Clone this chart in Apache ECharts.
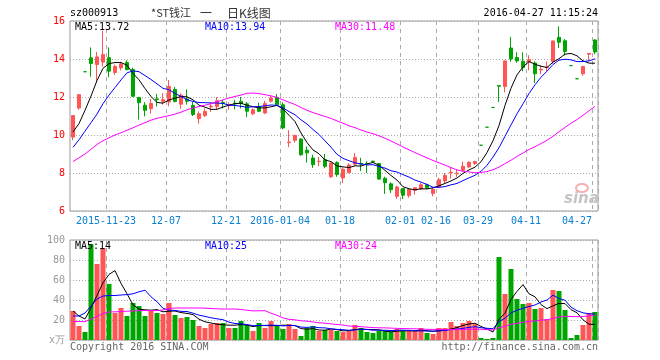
<!DOCTYPE html>
<html><head><meta charset="utf-8">
<script src="https://cdn.jsdelivr.net/npm/echarts@6/dist/echarts.min.js"></script>
<style>html,body{margin:0;padding:0;background:#fff}#c{width:660px;height:360px}</style>
</head><body><div id="c"></div>
<script>
// ---------- data ----------
const dates = [
'2015-11-13','2015-11-16','2015-11-17','2015-11-18','2015-11-19','2015-11-20',
'2015-11-23','2015-11-24','2015-11-25','2015-11-26','2015-11-27',
'2015-11-30','2015-12-01','2015-12-02','2015-12-03','2015-12-04',
'2015-12-07','2015-12-08','2015-12-09','2015-12-10','2015-12-11',
'2015-12-14','2015-12-15','2015-12-16','2015-12-17','2015-12-18',
'2015-12-21','2015-12-22','2015-12-23','2015-12-24','2015-12-25',
'2015-12-28','2015-12-29','2015-12-30','2015-12-31',
'2016-01-04','2016-01-05','2016-01-06','2016-01-07','2016-01-08',
'2016-01-11','2016-01-12','2016-01-13','2016-01-14','2016-01-15',
'2016-01-18','2016-01-19','2016-01-20','2016-01-21','2016-01-22',
'2016-01-25','2016-01-26','2016-01-27','2016-01-28','2016-01-29',
'2016-02-01','2016-02-02','2016-02-03','2016-02-04','2016-02-05',
'2016-02-15','2016-02-16','2016-02-17','2016-02-18','2016-02-19',
'2016-02-22','2016-02-23','2016-02-24',
'2016-03-29','2016-03-30','2016-03-31','2016-04-01',
'2016-04-05','2016-04-06','2016-04-07','2016-04-08',
'2016-04-11','2016-04-12','2016-04-13','2016-04-14','2016-04-15',
'2016-04-18','2016-04-19','2016-04-20','2016-04-21','2016-04-22',
'2016-04-26','2016-04-27'];

const open = [9.89,11.42,13.33,14.06,13.71,13.84,14.07,13.29,13.53,13.82,
13.45,11.98,11.57,11.39,11.90,11.77,11.74,12.40,11.62,11.90,
11.56,10.86,11.02,11.48,11.50,11.72,11.55,11.68,11.77,11.64,
11.12,11.50,11.16,11.78,11.98,11.59,9.60,9.72,9.79,9.20,
8.79,8.60,8.70,7.80,8.55,7.74,8.02,8.46,8.50,8.50,
8.62,8.50,7.72,7.43,6.77,7.18,6.82,7.08,7.16,7.38,
6.92,7.28,7.58,8.00,7.96,8.14,8.32,8.50,9.46,10.41,
11.45,12.60,12.55,14.58,14.08,13.88,13.84,13.79,13.42,13.54,
13.87,15.14,14.96,13.65,12.96,13.22,14.25,15.00];
const close = [11.02,12.12,13.33,13.76,14.11,14.23,13.36,13.61,13.74,13.44,
12.04,11.70,11.30,11.66,11.86,11.86,12.55,11.76,12.10,11.78,
11.08,11.12,11.24,11.52,11.80,11.68,11.60,11.64,11.65,11.25,
11.33,11.25,11.65,11.95,11.60,10.37,9.63,9.98,8.96,9.06,
8.44,8.62,8.35,8.53,7.92,8.20,8.42,8.82,8.46,8.48,
8.58,7.68,7.49,7.12,7.26,6.83,7.14,7.23,7.38,7.22,
7.14,7.65,7.87,8.04,7.99,8.35,8.56,8.60,9.46,10.41,
11.45,12.57,13.90,14.00,13.90,13.55,13.96,13.22,13.46,13.58,
14.95,14.88,14.40,13.65,12.96,13.61,14.29,14.37];
const low = [9.72,11.33,13.33,13.07,12.77,13.60,13.04,13.17,13.40,13.40,
12.00,10.81,10.98,11.12,11.50,11.60,11.51,11.72,11.38,11.60,
11.00,10.60,10.95,11.20,11.35,11.40,11.33,11.35,11.40,10.95,
11.05,11.20,11.10,11.70,11.55,10.30,9.36,9.60,8.90,8.55,
8.27,8.35,8.25,7.74,7.80,7.47,7.98,8.40,8.10,8.00,
8.54,7.64,6.90,6.95,6.63,6.63,6.70,6.86,7.12,7.15,
6.77,7.20,7.47,7.70,7.80,8.05,8.28,8.43,9.46,10.41,
11.45,11.74,12.25,13.85,13.80,13.35,13.40,12.74,13.20,13.35,
13.75,14.58,14.19,13.65,12.96,13.12,13.88,14.25];
const high = [11.05,12.15,13.33,14.61,14.37,15.49,14.61,13.70,13.86,13.93,
13.55,12.00,11.73,11.90,12.16,12.20,12.90,12.53,12.20,12.40,
11.74,11.24,11.40,11.72,12.00,11.85,11.72,11.85,12.00,11.74,
11.40,11.70,11.80,12.05,12.16,11.72,10.25,10.00,9.82,9.40,
8.96,8.85,9.00,8.55,8.62,8.30,8.52,9.05,8.80,8.62,
8.66,8.52,7.80,7.51,7.33,7.20,7.20,7.25,7.47,7.45,
7.25,7.75,8.00,8.32,8.20,8.60,8.62,8.65,9.46,10.41,
11.45,12.60,13.92,15.17,14.35,14.35,14.20,13.88,13.68,13.87,
14.97,15.72,15.05,13.65,12.96,13.62,14.29,15.05];
// volume, in 10k shares (x万)
const volume = [29,14,8,96,76,92,56,27,32,24,
37,34,24,30,27,26,37,25,22,23,
20,14,12,16,17,17,12,12,19,15,
9,17,12,19,15,11,16,11,4,12,
14,9,10,10,9,8,10,15,12,8,
7,9,9,8,11,9,9,9,12,7,
6,12,12,18,14,17,19,16,2,1,
2,83,46,71,41,36,37,31,32,21,
50,49,30,2,5,15,27,28];

// moving-average values at the start of the window (history before the first bar)
const ma5Head  = [10.16,10.6,11.3,12.05];
const ma10Head = [9.35,9.75,10.2,10.65,11.1,11.65,12.1,12.5,12.9];
const ma30Head = [8.6,8.8,9.0,9.25,9.5,9.7,9.85,10.0,10.12,10.25,
10.38,10.52,10.65,10.78,10.88,10.95,11.02,11.1,11.2,11.33,
11.42,11.5,11.57,11.65,11.75,11.85,11.95,12.03,12.1];
const volMa5Head  = [29,24,21,32];
const volMa10Head = [24,24,27,34,41,44,44.5,44.5,45];
const volMa30Head = [18.5,18.5,18.3,21,23.5,26.5,28,28.2,28.5,28.8,
29,29.3,29.5,29.5,29.5,30,31.5,32,32,32,
32,32,31.8,31.5,31.2,31,31,31,30.5];

const tickDates  = ['2015-11-23','2015-12-07','2015-12-21','2016-01-04','2016-01-18','2016-02-01','2016-02-16','2016-03-29','2016-04-11','2016-04-27'];
const tickLabels = ['2015-11-23','12-07','12-21','2016-01-04','01-18','02-01','02-16','03-29','04-11','04-27'];

const titleParts = ['*ST钱江', '一', '日K线图'];
const headerTexts = {
  code: 'sz000913', time: '2016-04-27 11:15:24',
  pMa5: 'MA5:13.72', pMa10: 'MA10:13.94', pMa30: 'MA30:11.48',
  vMa5: 'MA5:14', vMa10: 'MA10:25', vMa30: 'MA30:24',
  copy: 'Copyright 2016 SINA.COM', url: 'http://finance.sina.com.cn'
};

// ---------- build ----------
const RED = '#ff5555', GREEN = '#00a600';
const MONO = 'DejaVu Sans Mono';
function ma(src, n, head) {
  return src.map((_, i) => {
    if (i < n - 1) return head[i];
    let s = 0; for (let j = i - n + 1; j <= i; j++) s += src[j];
    return +(s / n).toFixed(4);
  });
}
const colOf = i => close[i] > open[i] ? RED : GREEN;
const candleData = dates.map((d, i) => {
  const c = colOf(i);
  return { value: [open[i], close[i], low[i], high[i]],
    itemStyle: { color: c, color0: c, borderColor: c, borderColor0: c, borderColorDoji: c } };
});
const volData = volume.map((v, i) => ({ value: v, itemStyle: { color: colOf(i) } }));

const isTick = (idx, val) => tickDates.indexOf(val === undefined ? dates[idx] : val) >= 0;
const lastTick = tickDates[tickDates.length - 1];

function xAx(gi, showLabel) {
  return {
    type: 'category', gridIndex: gi, data: dates, boundaryGap: true,
    axisLine: { show: false }, axisTick: { show: false, interval: isTick },
    axisLabel: {
      show: showLabel, interval: isTick, margin: 5,
      color: '#0a80d0', fontFamily: MONO, fontSize: 10, padding: [0, 6, 0, 0],
      formatter: v => {
        const t = tickLabels[tickDates.indexOf(v)];
        return v === lastTick ? '{e|' + t + '}' : t;
      },
      rich: { e: { color: '#0a80d0', fontFamily: MONO, fontSize: 10, padding: [0, 30, 0, 0] } }
    },
    splitLine: { show: true, interval: isTick, lineStyle: { color: '#aaaaaa', width: 1, type: [4, 4] } }
  };
}
function line(name, data, color, xi) {
  return { name, type: 'line', data, xAxisIndex: xi, yAxisIndex: xi, showSymbol: false, symbol: 'none',
    smooth: false, lineStyle: { color, width: 1 }, itemStyle: { color }, silent: true, animation: false, z: 5 };
}
function txt(x, y, text, fill, align, font) {
  return { type: 'text', x, y, silent: true, z: 100,
    style: { text, fill, align: align || 'left', verticalAlign: 'middle', font: font || ('10px "' + MONO + '"') } };
}

const option = {
  animation: false,
  backgroundColor: '#ffffff',
  grid: [
    { left: 70, top: 21, width: 528, height: 190, show: true, borderColor: '#999', borderWidth: 1, backgroundColor: 'transparent' },
    { left: 70, top: 240, width: 528, height: 100, show: true, borderColor: '#999', borderWidth: 1, backgroundColor: 'transparent' }
  ],
  xAxis: [xAx(0, true), xAx(1, false)],
  yAxis: [
    { type: 'value', gridIndex: 0, min: 6, max: 16, interval: 2, scale: true,
      axisLine: { show: false }, axisTick: { show: false },
      axisLabel: { color: '#ff0000', fontFamily: MONO, fontSize: 10, margin: 5 },
      splitLine: { show: true, lineStyle: { color: '#aaaaaa', type: [1, 2] } } },
    { type: 'value', gridIndex: 1, min: 0, max: 100, interval: 20,
      axisLine: { show: false }, axisTick: { show: false },
      axisLabel: { color: '#999999', fontFamily: MONO, fontSize: 10, margin: 5,
        formatter: v => v === 0 ? 'x万' : String(v) },
      splitLine: { show: true, lineStyle: { color: '#aaaaaa', type: [1, 2] } } }
  ],
  series: [
    { name: 'K', type: 'candlestick', xAxisIndex: 0, yAxisIndex: 0, data: candleData, barWidth: 4,
      itemStyle: { borderWidth: 1 }, silent: true, z: 3 },
    line('MA5', ma(close, 5, ma5Head), '#000000', 0),
    line('MA10', ma(close, 10, ma10Head), '#0000ff', 0),
    line('MA30', ma(close, 30, ma30Head), '#ff00ff', 0),
    { name: 'VOL', type: 'bar', xAxisIndex: 1, yAxisIndex: 1, data: volData, barWidth: 5, silent: true, z: 3 },
    line('VMA5', ma(volume, 5, volMa5Head), '#000000', 1),
    line('VMA10', ma(volume, 10, volMa10Head), '#0000ff', 1),
    line('VMA30', ma(volume, 30, volMa30Head), '#ff00ff', 1)
  ],
  graphic: [
    txt(70, 13, headerTexts.code, '#000'),
    txt(151, 13, titleParts[0], '#333', 'left', '11px "Noto Sans CJK SC"'),
    txt(200, 13, titleParts[1], '#333', 'left', '12px "Noto Sans CJK SC"'),
    txt(227, 13, titleParts[2], '#333', 'left', '12px "Noto Sans CJK SC"'),
    txt(598, 13, headerTexts.time, '#000', 'right'),
    txt(75, 27, headerTexts.pMa5, '#000'),
    txt(205, 27, headerTexts.pMa10, '#0000ff'),
    txt(335, 27, headerTexts.pMa30, '#ff00ff'),
    txt(75, 246, headerTexts.vMa5, '#000'),
    txt(205, 246, headerTexts.vMa10, '#0000ff'),
    txt(335, 246, headerTexts.vMa30, '#ff00ff'),
    txt(70, 347, headerTexts.copy, '#666'),
    txt(598, 347, headerTexts.url, '#666', 'right'),
    { type: 'ellipse', shape: { cx: 582, cy: 188, rx: 6, ry: 4 }, silent: true, z: 1,
      style: { fill: 'none', stroke: '#f5b0b0', lineWidth: 2 } },
    txt(564, 199, 'sina', '#c4c4c4', 'left', 'italic bold 15px "DejaVu Sans"')
  ]
};
const chart = echarts.init(document.getElementById('c'), null, { renderer: 'canvas' });
chart.setOption(option);
</script></body></html>
